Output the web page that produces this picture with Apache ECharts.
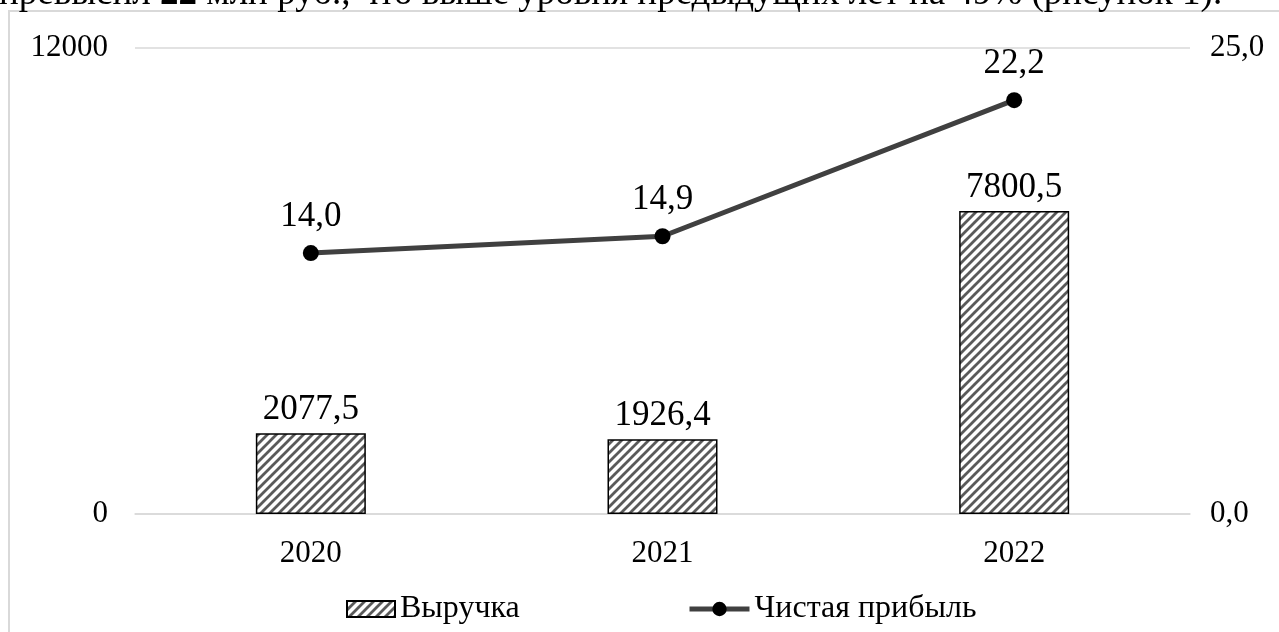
<!DOCTYPE html>
<html><head><meta charset="utf-8">
<script src="https://cdn.jsdelivr.net/npm/echarts@6/dist/echarts.min.js"></script>
<style>html,body{margin:0;padding:0;background:#fff}#c{width:1279px;height:632px}</style>
</head><body><div id="c"></div>
<script>
const categories = ['2020', '2021', '2022'];
const revenue = [2077.5, 1926.4, 7800.5];
const profit = [14.0, 14.9, 22.2];
const leftTicks = [0, 12000];
const rightTicks = [0, 25];
const seriesNames = ['Выручка', 'Чистая прибыль'];
const headParts = ['превысил ', '22', ' млн руб., что выше уровня предыдущих лет на 49% (рисунок 1).'];

function makePattern() {
  const s = 9;
  const cv = document.createElement('canvas');
  cv.width = s; cv.height = s;
  const ctx = cv.getContext('2d');
  ctx.fillStyle = '#ffffff'; ctx.fillRect(0, 0, s, s);
  ctx.strokeStyle = '#5a5a5a'; ctx.lineWidth = 2.8;
  ctx.beginPath();
  ctx.moveTo(0, s); ctx.lineTo(s, 0);
  ctx.moveTo(-s / 2, s / 2); ctx.lineTo(s / 2, -s / 2);
  ctx.moveTo(s / 2, s * 1.5); ctx.lineTo(s * 1.5, s / 2);
  ctx.stroke();
  return cv;
}
const fmt = v => Number(v).toFixed(1).replace('.', ',');
const FONT = '"Liberation Serif", "Times New Roman", serif';
const legendText = { fontFamily: FONT, fontSize: 32, color: '#000' };
const chart = echarts.init(document.getElementById('c'));
chart.setOption({
  animation: false,
  textStyle: { fontFamily: FONT, color: '#000' },
  graphic: [
    { type: 'rect', shape: { x: 9, y: 11, width: 1300, height: 700 }, style: { fill: 'none', stroke: '#d9d9d9', lineWidth: 2 } },
    { type: 'text', left: -1, top: -24, style: {
        text: '{a|' + headParts[0] + '}{b|' + headParts[1] + '}{a|' + headParts[2] + '}',
        rich: { a: { fontSize: 37, fontFamily: FONT, fill: '#000' }, b: { fontSize: 37, fontFamily: FONT, fontWeight: 'bold', fill: '#000' } }
      } }
  ],
  grid: { left: 135, right: 89, top: 48, bottom: 118 },
  legend: [
    { bottom: 2, left: 341, itemWidth: 48, itemHeight: 16, textStyle: legendText, itemGap: 4,
      data: [{ name: seriesNames[0], icon: 'rect' }] },
    { bottom: 2, left: 682, itemWidth: 60, itemHeight: 18, textStyle: legendText,
      lineStyle: { width: 5, color: '#404040' },
      data: [{ name: seriesNames[1] }] }
  ],
  xAxis: {
    type: 'category', data: categories,
    axisLine: { lineStyle: { color: '#d9d9d9', width: 1.5 } },
    axisTick: { show: false },
    axisLabel: { fontSize: 31, color: '#000', margin: 24, fontFamily: FONT }
  },
  yAxis: [
    { type: 'value', min: leftTicks[0], max: leftTicks[1], interval: 12000,
      axisLabel: { fontSize: 31, color: '#000', margin: 27, fontFamily: FONT, formatter: v => String(v) },
      splitLine: { lineStyle: { color: '#d9d9d9', width: 1.5 } }, axisLine: { show: false } },
    { type: 'value', min: rightTicks[0], max: rightTicks[1], interval: 25,
      axisLabel: { fontSize: 31, color: '#000', margin: 20, fontFamily: FONT, formatter: fmt },
      splitLine: { show: false }, axisLine: { show: false } }
  ],
  series: [
    { name: seriesNames[0], type: 'bar', data: revenue, barWidth: 110, yAxisIndex: 0,
      itemStyle: { color: { image: makePattern(), repeat: 'repeat' }, borderColor: '#000', borderWidth: 1.5 },
      label: { show: true, position: 'top', distance: 6, fontSize: 35, color: '#000', fontFamily: FONT, formatter: p => fmt(p.value) } },
    { name: seriesNames[1], type: 'line', data: profit, yAxisIndex: 1,
      lineStyle: { color: '#404040', width: 5 }, symbol: 'circle', symbolSize: 16,
      itemStyle: { color: '#000' },
      label: { show: true, position: 'top', distance: 11, fontSize: 35, color: '#000', fontFamily: FONT, formatter: p => fmt(p.value) } }
  ]
});
</script></body></html>
